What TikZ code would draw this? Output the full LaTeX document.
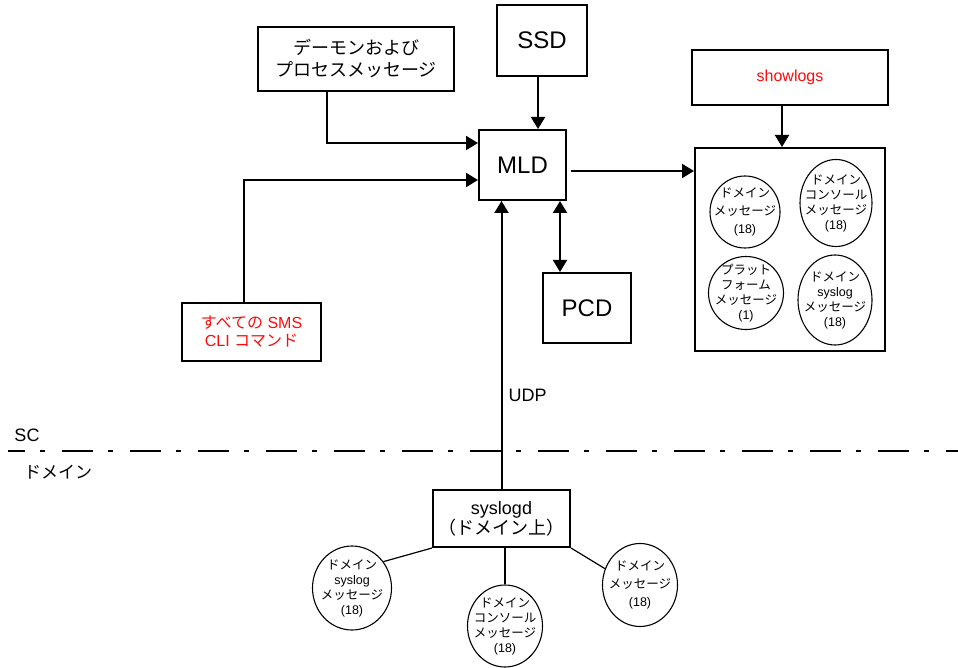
\documentclass[tikz,border=0pt]{standalone}
\usepackage{fontspec}
\setmainfont{Liberation Sans}
\newfontfamily\jp{Noto Sans CJK JP}
\usepackage{tikz}
\usetikzlibrary{positioning,arrows.meta,shapes.geometric,calc}
\definecolor{ink}{HTML}{000000}
\definecolor{cmdred}{HTML}{FF0A0A}
\tikzset{
  blk/.style={draw=ink, line width=2pt, fill=white, align=center, inner sep=2pt},
  cmd/.style={blk, text=cmdred, font=\fontsize{16}{18}\selectfont},
  proc/.style={blk, font=\fontsize{24}{28}\selectfont},
  msg/.style={ellipse, draw=ink, line width=1.1pt, inner sep=0pt},
  msgtxt/.style={align=center, font=\fontsize{12.5}{15}\selectfont},
  msgtxtw/.style={msgtxt, font=\fontsize{12.5}{18}\selectfont},
  ar/.style={-{Triangle[length=12pt, width=14pt]}, line width=2pt, color=ink},
  dar/.style={ar, {Triangle[length=12pt, width=14pt]}-{Triangle[length=12pt, width=14pt]}},
  lnk/.style={line width=1.2pt, color=ink},
  lbl/.style={font=\fontsize{18}{22}\selectfont},
  sep/.style={line width=2pt, dash pattern=on 31pt off 15pt on 5pt off 17pt, dash phase=14pt},
}

\begin{document}
\begin{tikzpicture}[x=1pt, y=-1pt]
\useasboundingbox (0,0) rectangle (958,668);

% SC side
\node[blk, minimum width=196pt, minimum height=64pt, font=\jp\fontsize{18}{22}\selectfont] (dmn) at (356,59) {デーモンおよび\\プロセスメッセージ};
\node[proc, minimum width=90pt, minimum height=71pt] (ssd) at (542,40.5) {SSD};
\node[proc, minimum width=87pt, minimum height=70pt] (mld) at (522.5,165) {MLD};
\node[proc, minimum width=88pt, minimum height=70pt] (pcd) at (587,308) {PCD};
\node[cmd, minimum width=139pt, minimum height=58pt] (sms) at (251.5,332) {{\jp すべての} SMS\\CLI {\jp コマンド}};
\node[cmd, minimum width=196pt, minimum height=55pt] (shl) at (790,77.5) {showlogs};

\node[blk, minimum width=190pt, minimum height=203pt] (logs) at (790,249.5) {};
\node[msg, minimum width=70pt, minimum height=72pt,
      label={[msgtxtw]center:{\jp ドメイン}\\{\jp メッセージ}\\(18)}] (c1) at (745,212) {};
\node[msg, minimum width=72pt, minimum height=87pt,
      label={[msgtxt]center:{\jp ドメイン}\\{\jp コンソール}\\{\jp メッセージ}\\(18)}] (c2) at (836,203) {};
\node[msg, minimum width=75pt, minimum height=73pt,
      label={[msgtxt]center:{\jp プラット}\\{\jp フォーム}\\{\jp メッセージ}\\(1)}] (c3) at (746,293) {};
\node[msg, minimum width=74pt, minimum height=90pt,
      label={[msgtxt]center:{\jp ドメイン}\\syslog\\{\jp メッセージ}\\(18)}] (c4) at (835,300) {};

\coordinate (dmnout) at ($(dmn.south)+(-29,0)$);
\coordinate (smsout) at ($(sms.north)+(-7.5,0)$);
\coordinate (ssdout) at ($(ssd.south)+(-4,0)$);
\coordinate (mldout) at ($(mld.east)+(4,6)$);
\coordinate (shlout) at ($(shl.south)+(-8,0)$);
\coordinate (pcdin)  at ($(pcd.north west)+(18,0)$);

\draw[ar] (dmnout) |- ($(mld.west)+(0,-22)$);
\draw[ar] (smsout) |- ($(mld.west)+(0,15)$);
\draw[ar] (ssdout) -- (ssdout |- mld.north);
\draw[ar] (mldout) -- (mldout -| logs.west);
\draw[ar] (shlout) -- (shlout |- logs.north);
\draw[dar] (pcdin |- mld.south) -- (pcdin);

% boundary
\coordinate (sepl) at (8,451);
\coordinate (sepr) at (958,451);
\draw[sep] (sepl) -- (sepr);
\node[lbl] (sc) at (27,435) {SC};
\node[lbl, font=\jp\fontsize{17}{20}\selectfont] (dom) at (58,472) {ドメイン};

% domain side
\node[blk, minimum width=137pt, minimum height=57pt, font=\fontsize{18}{19}\selectfont] (sysd) at (501.5,518.5) {syslogd\\{\jp （ドメイン上）}};
\node[msg, minimum width=79pt, minimum height=84pt,
      label={[msgtxt]center:{\jp ドメイン}\\syslog\\{\jp メッセージ}\\(18)}] (b1) at (352,588) {};
\node[msg, minimum width=75pt, minimum height=82pt,
      label={[msgtxt]center:{\jp ドメイン}\\{\jp コンソール}\\{\jp メッセージ}\\(18)}] (b2) at (505,626) {};
\node[msg, minimum width=75pt, minimum height=83pt,
      label={[msgtxtw]center:{\jp ドメイン}\\{\jp メッセージ}\\(18)}] (b3) at (640,585) {};

\draw[ar] (sysd.north) -- (sysd.north |- mld.south);
\node[lbl, anchor=west] (udp) at (505,395) {UDP};
\draw[lnk] (sysd.south west) -- (b1.40);
\draw[lnk, line width=2pt] (sysd.south -| b2.north) -- (b2.north);
\draw[lnk] (sysd.south east) -- (b3.155);

\end{tikzpicture}
\end{document}
